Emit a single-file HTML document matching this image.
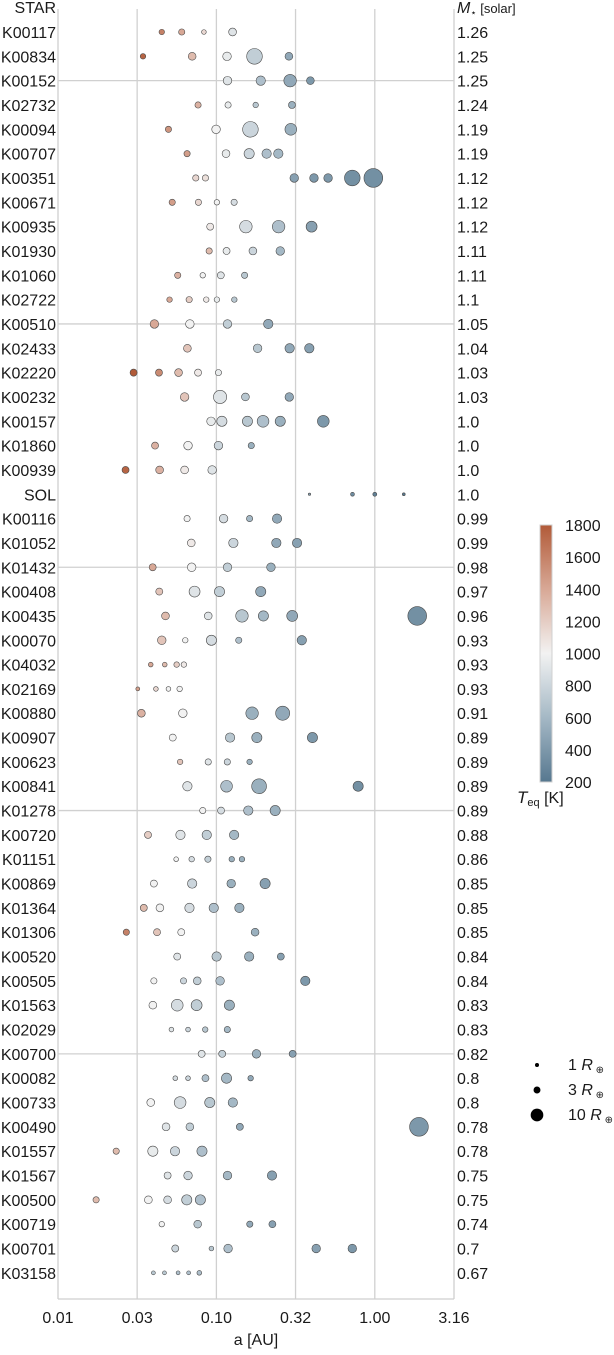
<!DOCTYPE html>
<html><head><meta charset="utf-8">
<style>
html,body{margin:0;padding:0;background:#fff;}
svg text{font-family:"Liberation Sans",sans-serif;fill:#1a1a1a;}
</style></head>
<body>
<svg id="chart" width="614" height="1350" viewBox="0 0 614 1350" xmlns="http://www.w3.org/2000/svg"></svg>
<script>
const stars = ["K00117","K00834","K00152","K02732","K00094","K00707","K00351","K00671","K00935","K01930","K01060","K02722","K00510","K02433","K02220","K00232","K00157","K01860","K00939","SOL","K00116","K01052","K01432","K00408","K00435","K00070","K04032","K02169","K00880","K00907","K00623","K00841","K01278","K00720","K01151","K00869","K01364","K01306","K00520","K00505","K01563","K02029","K00700","K00082","K00733","K00490","K01557","K01567","K00500","K00719","K00701","K03158"];
const masses = ["1.26","1.25","1.25","1.24","1.19","1.19","1.12","1.12","1.12","1.11","1.11","1.1","1.05","1.04","1.03","1.03","1.0","1.0","1.0","1.0","0.99","0.99","0.98","0.97","0.96","0.93","0.93","0.93","0.91","0.89","0.89","0.89","0.89","0.88","0.86","0.85","0.85","0.85","0.84","0.84","0.83","0.83","0.82","0.8","0.8","0.78","0.78","0.75","0.75","0.74","0.7","0.67"];
// semi-major axes [AU] per star
const semiMajor = [
[0.0452,0.0604,0.0834,0.1265],
[0.0344,0.0703,0.1167,0.174,0.287],
[0.1175,0.1905,0.292,0.392],
[0.0766,0.1185,0.177,0.300],
[0.0498,0.0995,0.164,0.295],
[0.0653,0.115,0.161,0.2075,0.246],
[0.0741,0.0853,0.310,0.413,0.507,0.721,0.979],
[0.0526,0.077,0.1007,0.1294],
[0.0914,0.1535,0.247,0.399],
[0.090,0.1159,0.170,0.253],
[0.057,0.082,0.1066,0.1507],
[0.0506,0.0673,0.0863,0.1007,0.1298],
[0.0406,0.068,0.1175,0.2125],
[0.0656,0.182,0.290,0.386],
[0.030,0.0434,0.0577,0.0766,0.103],
[0.063,0.1055,0.1525,0.2885],
[0.0925,0.1083,0.157,0.197,0.253,0.473],
[0.041,0.0662,0.103,0.166],
[0.0267,0.0438,0.063,0.094],
[0.387,0.723,1.0,1.524],
[0.0653,0.111,0.162,0.2415],
[0.0694,0.128,0.239,0.323],
[0.0396,0.0698,0.1175,0.221],
[0.0436,0.0728,0.1046,0.1905],
[0.0477,0.0888,0.145,0.198,0.301,1.853],
[0.0452,0.0636,0.093,0.1384,0.346],
[0.0385,0.0472,0.0561,0.0623],
[0.0319,0.0415,0.0498,0.0586],
[0.0336,0.0614,0.168,0.262],
[0.053,0.122,0.180,0.404],
[0.059,0.0888,0.1172,0.162],
[0.0656,0.1159,0.186,0.785],
[0.082,0.107,0.159,0.235],
[0.037,0.0593,0.0869,0.1294],
[0.0557,0.0698,0.0884,0.125,0.145],
[0.0403,0.0703,0.124,0.203],
[0.0348,0.044,0.0676,0.0962,0.1397],
[0.027,0.0422,0.060,0.1755],
[0.0566,0.1003,0.161,0.255],
[0.0403,0.062,0.0757,0.1055,0.364],
[0.0397,0.0566,0.075,0.1208],
[0.052,0.0662,0.085,0.1172],
[0.0807,0.1088,0.179,0.303],
[0.055,0.0662,0.0853,0.1159,0.1645],
[0.0385,0.059,0.0908,0.127],
[0.0481,0.068,0.1406,1.90],
[0.0233,0.0397,0.0548,0.0811],
[0.0492,0.0662,0.1175,0.2244],
[0.0174,0.0372,0.0492,0.065,0.0792],
[0.0452,0.0762,0.1625,0.2257],
[0.055,0.093,0.1185,0.4266,0.721],
[0.040,0.047,0.0573,0.0668,0.078]
];
// planet radii [Earth radii]
const radii = [
[1.9,2.45,1.4,3.8],
[1.9,3.8,4.6,15.3,3.8],
[4.6,5.5,9.8,3.8],
[2.45,2.45,1.9,3.1],
[2.45,4.6,15.3,8.6],
[2.45,3.8,6.5,5.5,5.5],
[2.45,2.45,4.6,4.6,4.6,15.3,22],
[2.45,2.45,1.9,2.45],
[3.1,9.8,9.8,7.5],
[2.45,3.1,3.8,4.6],
[2.45,1.9,3.1,2.45],
[1.9,2.45,1.9,1.9,1.9],
[4.6,4.6,4.6,5.5],
[3.8,4.6,5.5,5.5],
[3.1,3.1,3.8,3.1,2.45],
[4.6,11,3.8,4.6],
[4.6,6.5,6.5,8.6,6.5,8.6],
[3.1,4.6,4.6,2.45],
[3.1,3.8,3.8,4.6],
[0.38,0.95,1.0,0.53],
[2.45,4.6,2.45,5.5],
[3.8,5.5,5.5,5.5],
[3.1,4.6,4.6,4.6],
[3.1,7.5,6.5,6.5],
[3.8,3.8,9.8,6.5,7.5,22],
[4.6,1.9,6.5,2.45,5.5],
[1.4,1.4,1.9,1.9],
[0.96,1.4,1.4,1.9],
[3.8,4.6,9.8,12.4],
[3.1,5.5,6.5,6.5],
[1.9,2.45,2.45,1.9],
[5.5,8.6,13.8,6.5],
[2.45,3.1,5.5,6.5],
[3.1,5.5,5.5,5.5],
[1.4,1.9,2.45,1.9,1.9],
[3.1,5.5,4.6,6.5],
[3.1,3.8,5.5,5.5,5.5],
[2.45,3.1,3.1,3.8],
[3.1,5.5,5.5,3.1],
[2.45,2.45,3.8,4.6,5.5],
[3.8,8.6,7.5,6.5],
[1.4,1.4,1.9,2.45],
[3.1,3.1,4.6,3.1],
[1.4,1.4,3.1,6.5,1.9],
[3.8,8.6,6.5,5.5],
[3.8,3.8,3.1,22],
[2.45,6.5,5.5,6.5],
[3.1,4.6,4.6,5.5],
[2.45,3.8,3.8,6.5,6.5],
[1.9,3.8,2.45,3.1],
[3.1,1.4,4.6,4.6,4.6],
[0.96,0.96,0.96,0.96,1.4]
];
// equilibrium temperatures [K]
const teq = [
[1600,1400,1150,900],
[1750,1300,950,750,500],
[900,650,500,400],
[1350,950,700,550],
[1500,1000,800,550],
[1450,950,800,650,600],
[1150,1100,450,400,400,350,350],
[1450,1150,1000,850],
[1050,850,650,450],
[1300,950,800,600],
[1350,1000,900,700],
[1400,1200,1050,950,700],
[1400,1000,750,500],
[1250,700,500,450],
[1800,1550,1300,1050,950],
[1250,900,700,500],
[950,850,700,650,550,400],
[1350,1000,800,550],
[1750,1350,1050,900],
[440,330,255,210],
[1000,850,600,500],
[1050,800,500,450],
[1400,1000,750,550],
[1250,900,750,500],
[1300,900,700,600,500,350],
[1250,1000,850,650,450],
[1400,1300,1200,1050],
[1450,1150,1000,1000],
[1350,1000,550,500],
[1000,700,550,400],
[1250,900,800,550],
[900,650,550,350],
[1000,850,650,550],
[1200,900,750,600],
[1000,850,750,550,550],
[1000,800,550,450],
[1300,1000,850,650,550],
[1600,1250,1000,550],
[900,700,550,450],
[1000,800,750,650,400],
[1000,850,750,550],
[900,800,700,600],
[900,750,550,450],
[850,800,650,600,500],
[1000,850,700,600],
[900,750,500,400],
[1300,950,800,650],
[900,800,600,450],
[1300,1000,850,750,650],
[1000,700,500,450],
[800,700,650,450,400],
[700,700,650,650,650]
];
const xTickVals = [0.01,0.0316,0.1,0.316,1.0,3.16];
const xTickLabels = ["0.01","0.03","0.10","0.32","1.00","3.16"];
const cbTicks = [200,400,600,800,1000,1200,1400,1600,1800];
const legendSizes = [1,3,10];

const NS="http://www.w3.org/2000/svg";
const svg=document.getElementById('chart');
const L=58,R=454,T=9,B=1299,Y0=32,DY=24.33;
const FS=16;
const xS=a=>L+(Math.log10(a)+2)*(R-L)/2.5;
const yS=i=>Y0+i*DY;
const rS=r=>2*Math.sqrt(r);
function mk(tag,attrs,parent){const e=document.createElementNS(NS,tag);for(const k in attrs)e.setAttribute(k,attrs[k]);(parent||svg).appendChild(e);return e;}
const stops=[[200,[86,120,143]],[600,[164,184,197]],[1000,[242,242,242]],[1400,[216,168,150]],[1800,[177,90,56]]];
function cmap(t){t=Math.max(200,Math.min(1800,t));for(let k=0;k<stops.length-1;k++){const [t0,c0]=stops[k],[t1,c1]=stops[k+1];if(t<=t1){const f=(t-t0)/(t1-t0);return 'rgb('+c0.map((v,j)=>Math.round(v+(c1[j]-v)*f)).join(',')+')';}}return 'rgb(177,90,56)';}

xTickVals.slice(1,5).forEach(v=>{const g=mk('line',{x1:xS(v),x2:xS(v),y1:T,y2:B,stroke:'#d0d0d0','stroke-width':1.3});

});
for(let i=2;i<stars.length;i+=10){const g=mk('line',{x1:L,x2:R,y1:yS(i),y2:yS(i),stroke:'#d0d0d0','stroke-width':1.3});

}
[[L,T,L,B],[R,T,R,B],[L,B,R,B]].forEach(s=>{const e=mk('line',{x1:s[0],y1:s[1],x2:s[2],y2:s[3],stroke:'#cfcfcf','stroke-width':1.3});

});

let h=mk('text',{x:56,y:13,'text-anchor':'end','font-size':FS});h.textContent='STAR';


h=mk('text',{x:457,y:13,'font-size':FS});
h.innerHTML='<tspan font-style="italic">M</tspan><tspan font-size="10" dy="3">⋆</tspan><tspan font-size="13" dy="-3"> [solar]</tspan>';



stars.forEach((s,i)=>{
  const y=yS(i);
  const t=mk('text',{x:56,y:y+6,'text-anchor':'end','font-size':FS});t.textContent=s;
  
  
  const m=mk('text',{x:457,y:y+6,'font-size':FS});m.textContent=masses[i];
  
  
  semiMajor[i].forEach((a,j)=>{
    const c=mk('circle',{cx:xS(a),cy:y,r:rS(radii[i][j]),fill:cmap(teq[i][j]),stroke:'#4a4a4a','stroke-width':0.6});
    
    
  });
});

xTickVals.forEach((v,k)=>{const t=mk('text',{x:xS(v),y:1323,'text-anchor':'middle','font-size':FS});t.textContent=xTickLabels[k];

});
h=mk('text',{x:256,y:1345,'text-anchor':'middle','font-size':FS});h.textContent='a [AU]';



const defs=mk('defs',{});
const lg=mk('linearGradient',{id:'cbg',x1:0,y1:1,x2:0,y2:0},defs);
for(let t=200;t<=1800;t+=100){mk('stop',{offset:(t-200)/1600,'stop-color':cmap(t)},lg);}
const cbT=525,cbB=782;
h=mk('rect',{x:540,y:cbT,width:12,height:cbB-cbT,fill:'url(#cbg)',stroke:'#d0d0d0','stroke-width':1});


cbTicks.forEach(v=>{const y=cbB-(v-200)/1600*(cbB-cbT);const t=mk('text',{x:565,y:y+6,'font-size':FS});t.textContent=v;

});
h=mk('text',{x:517,y:803,'font-size':FS});
h.innerHTML='<tspan font-style="italic" font-size="17">T</tspan><tspan font-size="11" dy="3">eq</tspan><tspan dy="-3"> [K]</tspan>';



legendSizes.forEach((v,k)=>{const y=1065+k*25;
  const c=mk('circle',{cx:537,cy:y,r:rS(v),fill:'#000'});
  
  
  const t=mk('text',{x:568,y:y+5,'font-size':FS});
  t.innerHTML=v+' <tspan font-style="italic">R</tspan><tspan font-size="10" dy="3"> ⊕</tspan>';
  
  
});
</script>
</body></html>
